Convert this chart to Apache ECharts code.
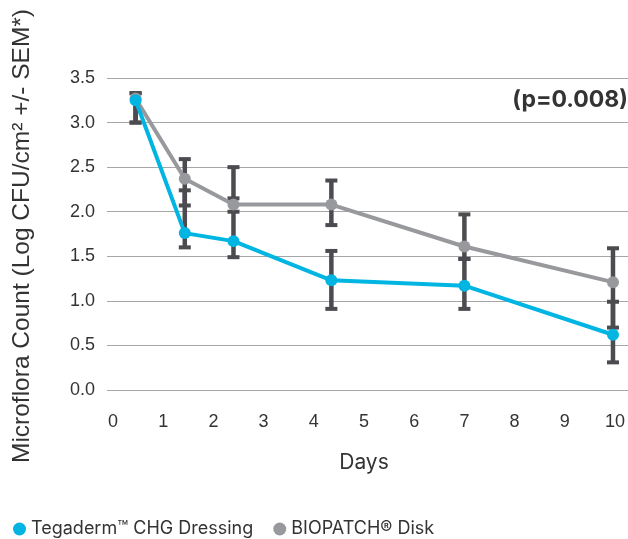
<!DOCTYPE html>
<html>
<head>
<meta charset="utf-8">
<script src="https://cdn.jsdelivr.net/npm/echarts@6/dist/echarts.min.js"></script>
<style>html,body{margin:0;padding:0;background:#fff;}#c{width:628px;height:539px;}</style>
</head>
<body>
<div id="c"></div>
<script>
var days = [0.45, 1.43, 2.4, 4.35, 7, 9.96];
var tegaderm = [3.25, 1.76, 1.67, 1.23, 1.17, 0.62];
var biopatch = [3.27, 2.37, 2.08, 2.08, 1.61, 1.21];
var tegadermLow = [3.0, 1.60, 1.49, 0.91, 0.91, 0.31];
var tegadermHigh = [3.33, 2.24, 2.15, 1.56, 1.47, 0.99];
var biopatchLow = [3.0, 2.07, 2.0, 1.85, 1.47, 0.70];
var biopatchHigh = [3.33, 2.59, 2.5, 2.35, 1.97, 1.59];
var seriesNames = ['Tegaderm\u2122 CHG Dressing', 'BIOPATCH\u00ae Disk'];
var yTitle = 'Microflora Count (Log CFU/cm\u00b2 +/- SEM*)';
var xTitle = 'Days';
var pText = '(p=0.008)';

var CYAN = '#00b5e2', GREY = '#98999c', ERR = '#4b4b50';

function pairs(xs, ys) { return xs.map(function (x, i) { return [x, ys[i]]; }); }
function errData(xs, lo, hi) { return xs.map(function (x, i) { return [x, lo[i], hi[i]]; }); }

function renderErr(params, api) {
  var x = api.value(0);
  var p1 = api.coord([x, api.value(1)]);
  var p2 = api.coord([x, api.value(2)]);
  var cw = 6;
  var st = { stroke: ERR, lineWidth: 4.5 };
  var cs = { stroke: ERR, lineWidth: 4 };
  return {
    type: 'group',
    children: [
      { type: 'line', shape: { x1: p1[0], y1: p1[1], x2: p2[0], y2: p2[1] }, style: st },
      { type: 'line', shape: { x1: p1[0] - cw, y1: p1[1], x2: p1[0] + cw, y2: p1[1] }, style: cs },
      { type: 'line', shape: { x1: p2[0] - cw, y1: p2[1], x2: p2[0] + cw, y2: p2[1] }, style: cs }
    ]
  };
}

var chart = echarts.init(document.getElementById('c'), null, { renderer: 'canvas' });
chart.setOption({
  animation: false,
  backgroundColor: '#fff',
  grid: [
    { left: 107, right: 0, top: 78, height: 312 },
    { left: 113, right: 10, top: 78, height: 312 }
  ],
  xAxis: [
    { gridIndex: 0, type: 'value', min: 0, max: 1, show: false },
    { gridIndex: 1, type: 'value', min: 0, max: 10, interval: 1,
      axisLine: { show: false }, axisTick: { show: false }, splitLine: { show: false },
      axisLabel: { margin: 23, fontSize: 18, color: '#333', fontFamily: 'Liberation Sans' },
      name: xTitle, nameLocation: 'middle', nameGap: 62,
      nameTextStyle: { fontSize: 21, color: '#333', fontFamily: 'Inter' } }
  ],
  yAxis: [
    { gridIndex: 0, type: 'value', min: 0, max: 3.5, interval: 0.5,
      axisLine: { show: false }, axisTick: { show: false },
      splitLine: { lineStyle: { color: '#a6a6a6', width: 1.2 } },
      axisLabel: { margin: 12, fontSize: 18, color: '#333', fontFamily: 'Liberation Sans',
        formatter: function (v) { return v.toFixed(1); } } },
    { gridIndex: 1, type: 'value', min: 0, max: 3.5, interval: 0.5, show: false, splitLine: { show: false } }
  ],
  legend: {
    left: 13, top: 520, padding: 0, icon: 'circle', itemWidth: 13, itemHeight: 13, itemGap: 20,
    textStyle: { fontSize: 18, color: '#333', fontFamily: 'Inter' },
    data: seriesNames
  },
  graphic: [
    { type: 'text', x: 22, y: 236, rotation: Math.PI / 2,
      style: { text: yTitle, fontSize: 24.5, fill: '#333', fontFamily: 'Liberation Sans',
        textAlign: 'center', textVerticalAlign: 'middle' } },
    { type: 'text', right: 0, top: 89,
      style: { text: pText, fontSize: 23, fontWeight: 'bold', fill: '#333', fontFamily: 'Inter' } }
  ],
  series: [
    { type: 'custom', name: 'errB', xAxisIndex: 1, yAxisIndex: 1, z: 1,
      renderItem: renderErr, data: errData(days, biopatchLow, biopatchHigh) },
    { type: 'custom', name: 'errT', xAxisIndex: 1, yAxisIndex: 1, z: 1,
      renderItem: renderErr, data: errData(days, tegadermLow, tegadermHigh) },
    { type: 'line', name: seriesNames[1], xAxisIndex: 1, yAxisIndex: 1, z: 3,
      data: pairs(days, biopatch), symbol: 'circle', symbolSize: 12,
      lineStyle: { color: GREY, width: 4 }, itemStyle: { color: GREY } },
    { type: 'line', name: seriesNames[0], xAxisIndex: 1, yAxisIndex: 1, z: 4,
      data: pairs(days, tegaderm), symbol: 'circle', symbolSize: 12,
      lineStyle: { color: CYAN, width: 4 }, itemStyle: { color: CYAN } }
  ]
});
</script>
</body>
</html>
